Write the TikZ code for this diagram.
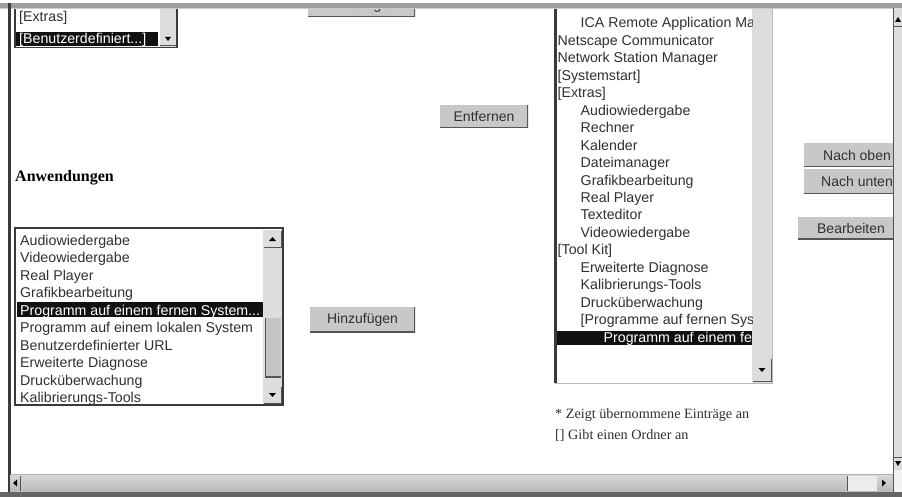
\documentclass[tikz,border=0pt]{standalone}
\usepackage{fontspec}
\setmainfont{Liberation Sans}
\newfontfamily\serifface{Liberation Serif}
\definecolor{txt}{HTML}{303030}
\definecolor{btnface}{HTML}{C8C8C8}
\definecolor{btnshade}{HTML}{555555}
\definecolor{track}{HTML}{DDDDDD}
\definecolor{frame}{HTML}{3A3A3A}
\definecolor{selbg}{HTML}{111111}
\definecolor{barface}{HTML}{C4C4C4}

\begin{document}
\begin{tikzpicture}[x=1pt,y=-1pt,
  item/.style={anchor=base west, inner sep=0pt, text=txt, font=\fontsize{14.2}{16}\selectfont},
  selitem/.style={item, text=white},
  button/.style={fill=btnface, inner sep=0pt, text=txt, font=\fontsize{14}{16}\selectfont,
    path picture={\draw[btnshade, line width=2.2pt]
      (path picture bounding box.north east) -- (path picture bounding box.south east)
      -- (path picture bounding box.south west);}},
  arrowbox/.style={fill=track, draw=none},
  tri/.style={fill=black},
  note/.style={anchor=base west, inner sep=0pt, text=txt, font=\serifface\fontsize{14.2}{15}\selectfont}
]
\useasboundingbox (0,0) rectangle (902,497);
\fill[white] (0,0) rectangle (902,497);

\begin{scope}
\clip (10,8) rectangle (893,475);

% --- small category list at the top left ---
\fill[white] (15,0) rectangle (177,47);
\fill[track] (160,0) rectangle (176,47);
\fill[arrowbox] (160,32) rectangle (176,46);
\draw[btnshade, line width=1pt] (176,32) -- (176,46) -- (160,46);
\fill[tri] (165,37) -- (171,37) -- (168,41) -- cycle;
\fill[selbg] (16,32) rectangle (158,46);
\node[item] (cat1) at (19,22) {[Extras]};
\node[selitem] (cat2) at (19,44) {[Benutzerdefiniert...]};
\draw[frame, line width=1.2pt] (15,0) -- (15,47.5) -- (177,47.5) -- (177,0);

% --- top button, mostly scrolled out of view ---
\node[button, minimum width=107pt, minimum height=23pt] (addtop) at (361.5,5.5) {Hinzufügen};

% --- Entfernen ---
\node[button, minimum width=88pt, minimum height=23pt] (remove) at (484,116.5) {Entfernen};

% --- heading ---
\node[anchor=base west, inner sep=0pt, text=black,
      font=\serifface\bfseries\fontsize{16}{18}\selectfont] (apps) at (15,182) {Anwendungen};

% --- applications list ---
\fill[white] (15,228) rectangle (283,405);
\fill[track] (263,230) rectangle (282,404);
\fill[arrowbox] (264,231) rectangle (281,247);
\draw[btnshade, line width=1pt] (281,231) -- (281,247) -- (264,247);
\fill[tri] (269,241) -- (276,241) -- (272.5,237) -- cycle;
\fill[arrowbox] (264,387) rectangle (281,403);
\draw[btnshade, line width=1pt] (281,387) -- (281,403) -- (264,403);
\fill[tri] (269,393) -- (276,393) -- (272.5,397) -- cycle;
\fill[barface] (265,318) rectangle (281,377);
\draw[btnshade, line width=1.5pt] (265.5,318) -- (265.5,377) -- (281,377);
\fill[selbg] (17,302) rectangle (263,317);
\foreach \t [count=\i] in {Audiowiedergabe, Videowiedergabe, Real Player, Grafikbearbeitung,
    {}, Programm auf einem lokalen System, Benutzerdefinierter URL,
    Erweiterte Diagnose, Drucküberwachung, Kalibrierungs-Tools}
  \node[item] (app\i) at (20,{245+17.5*(\i-1)}) {\t};
\node[selitem] (appsel) at (20,315) {Programm auf einem fernen System...};
\draw[frame, line width=1.4pt] (15,228) rectangle (283,405);

% --- Hinzufügen ---
\node[button, minimum width=105pt, minimum height=25pt] (add) at (362.5,319.5) {Hinzufügen};

% --- selected entries list ---
\fill[white] (555,0) rectangle (772,383);
\fill[track] (752,0) rectangle (772,383);
\fill[arrowbox] (753,359) rectangle (771,381);
\draw[btnshade, line width=1pt] (771,359) -- (771,381) -- (753,381);
\fill[tri] (758.5,368) -- (765.5,368) -- (762,372) -- cycle;
\fill[selbg] (557,331) rectangle (752,345);
\begin{scope}
\clip (557,0) rectangle (752,383);
\foreach \d/\t [count=\i] in {1/{ICA Remote Application Manager}, 0/{Netscape Communicator},
    0/{Network Station Manager}, 0/{[Systemstart]}, 0/{[Extras]}, 1/{Audiowiedergabe},
    1/{Rechner}, 1/{Kalender}, 1/{Dateimanager}, 1/{Grafikbearbeitung}, 1/{Real Player},
    1/{Texteditor}, 1/{Videowiedergabe}, 0/{[Tool Kit]}, 1/{Erweiterte Diagnose},
    1/{Kalibrierungs-Tools}, 1/{Drucküberwachung}, 1/{[Programme auf fernen Systemen]}}
  \node[item] (sel\i) at ({557.5+23*\d},{28+17.45*(\i-1)}) {\t};
\node[selitem] (selhi) at (603.5,342) {Programm auf einem fernen System};
\end{scope}
\fill[frame] (554,0) rectangle (557,383);
\draw[gray!55, line width=1pt] (555,383.5) -- (772.5,383.5) -- (772.5,0);

% --- buttons on the right ---
\node[button, minimum width=106pt, minimum height=24pt] (up) at (857,155) {Nach oben};
\node[button, minimum width=106pt, minimum height=25pt] (down) at (857,181.5) {Nach unten};
\node[button, minimum width=106pt, minimum height=22pt] (edit) at (851,228) {Bearbeiten};

% --- notes ---
\node[note] (note1) at (555,418) {* Zeigt übernommene Einträge an};
\node[note] (note2) at (555,439) {[] Gibt einen Ordner an};
\end{scope}

% --- window frame and scroll bars ---
\fill[gray!75] (0,3) rectangle (902,8);
\fill[gray!40] (0,8) rectangle (902,9);
\fill[frame] (7.5,3) rectangle (10.5,497);
% vertical scroll bar
\fill[track] (893,8) rectangle (902,470);
\draw[btnshade, line width=1pt] (893,8) -- (893,470);
\fill[tri] (895,22) -- (901,22) -- (898,17) -- cycle;
\draw[btnshade, line width=1pt] (894,27) -- (902,27);
\draw[btnshade, line width=1pt] (894,457) -- (902,457);
\fill[tri] (895,461) -- (901,461) -- (898,466) -- cycle;
% horizontal scroll bar
\shade[top color=gray!30, bottom color=gray!55] (10.5,474) rectangle (893,492);
\draw[gray!60, line width=1pt] (10.5,474) -- (893,474);
\fill[tri] (13,483) -- (17,479.5) -- (17,486.5) -- cycle;
\draw[btnshade, line width=1pt] (20,476) -- (20,491);
\fill[white!85!gray] (847,476) rectangle (877,491);
\draw[btnshade, line width=1pt] (847,476) -- (847,491);
\fill[tri] (886,483) -- (882,479.5) -- (882,486.5) -- cycle;
\fill[white!90!gray] (893,470) rectangle (902,492);
\draw[btnshade, line width=1pt] (893,470) -- (893,492);
\fill[gray!80!black] (0,492) rectangle (902,497);
\end{tikzpicture}
\end{document}
